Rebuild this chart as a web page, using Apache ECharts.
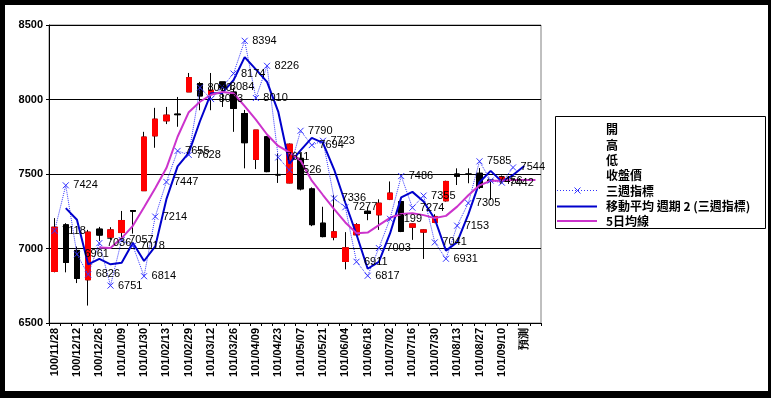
<!DOCTYPE html>
<html><head><meta charset="utf-8">
<script src="https://cdn.jsdelivr.net/npm/echarts@6/dist/echarts.min.js"></script>
<style>html,body{margin:0;padding:0;background:#000;}#c{width:771px;height:398px;}</style>
</head><body><div id="c"></div>
<script>
const categories = ['100/11/28','100/12/05','100/12/12','100/12/19','100/12/26','101/01/02','101/01/09','101/01/16','101/01/30','101/02/06','101/02/13','101/02/20','101/02/29','101/03/05','101/03/12','101/03/19','101/03/26','101/04/02','101/04/09','101/04/16','101/04/23','101/04/30','101/05/07','101/05/14','101/05/21','101/05/28','101/06/04','101/06/11','101/06/18','101/06/25','101/07/02','101/07/09','101/07/16','101/07/23','101/07/30','101/08/06','101/08/13','101/08/20','101/08/27','101/09/03','101/09/10','101/09/17','預測',''];
const openVals  = [6846,7159,6987,6790,7130,7076,7107,7255,7388,7756,7857,7902,8051,8107,8035,8118,8050,7906,7598,7750,7497,7440,7605,7400,7170,7076,6913,7092,7250,7226,7331,7315,7143,7110,7175,7320,7500,7500,7505,7460,7450];
const closeVals = [7143,6906,6799,7110,7090,7125,7188,7250,7748,7868,7895,7898,8147,8024,8062,8078,7940,7710,7795,7516,7493,7700,7400,7160,7080,7112,7005,7160,7235,7304,7372,7115,7165,7125,7215,7450,7485,7498,7410,7455,7480];
const lowVals   = [6840,6840,6768,6617,7050,7058,7058,7100,7388,7676,7835,7817,8051,7928,7928,7950,7783,7538,7533,7512,7440,7438,7390,7150,7075,7055,6860,7085,7190,7125,7325,7110,7058,6930,7170,7315,7426,7438,7400,7326,7440];
const highVals  = [7204,7170,7013,7125,7145,7143,7252,7258,7783,7944,7950,8017,8178,8118,8178,8118,8080,7930,7795,7755,7638,7705,7640,7410,7280,7360,7110,7170,7280,7330,7450,7320,7168,7128,7230,7455,7538,7538,7540,7462,7490];
const threeWeek = [7118,7424,6961,6826,7036,6751,7057,7018,6814,7214,7447,7655,7628,8080,8003,8084,8174,8394,8010,8226,7611,7526,7790,7694,7723,7336,7277,6911,6817,7003,7199,7486,7274,7355,7041,6931,7153,7305,7585,7456,7442,7544];
const threeWeekMA2 = [null,7271,7193,6894,6931,6894,6904,7038,6916,7014,7331,7551,7642,7854,8042,8044,8129,8284,8202,8118,7919,7569,7658,7742,7709,7530,7307,7094,6864,6910,7101,7343,7380,7315,7198,6986,7042,7229,7445,7521,7449,7493,7554];
const ma5 = [null,null,null,null,7007,7003,7070,7152,7277,7404,7540,7750,7915,7985,8032,8051,8042,7955,7865,7765,7688,7645,7590,7455,7359,7264,7175,7103,7107,7157,7206,7232,7237,7224,7204,7219,7281,7357,7424,7455,7455,7460,7460,7460];
const yMin = 6500, yMax = 8500, yStep = 500;

const wickData = openVals.map((o, i) => [o, closeVals[i], lowVals[i], highVals[i]]);
const bodyData = openVals.map((o, i) => [o, closeVals[i], Math.min(o, closeVals[i]), Math.max(o, closeVals[i])]);
const noIcon = {icon: 'rect', itemStyle: {color: 'rgba(0,0,0,0)', borderWidth: 0, opacity: 0}};
const xSym = 'path://M0,0L10,10M10,0L0,10';
const C3W = '#3333ff', CMA = '#0000cc', C5 = '#cc33cc';

const chart = echarts.init(document.getElementById('c'));
chart.setOption({
  animation: false,
  backgroundColor: '#000',
  graphic: [
    {type: 'rect', z: -10, shape: {x: 5, y: 5, width: 763, height: 386}, style: {fill: '#fff'}},
    {type: 'rect', z: -5, shape: {x: 555.5, y: 116.5, width: 210, height: 112}, style: {fill: '#fff', stroke: '#000', lineWidth: 1}},
    {type: 'line', z: 10, shape: {x1: 557, y1: 190.5, x2: 597, y2: 190.5}, style: {stroke: C3W, lineWidth: 1, lineDash: [1, 2]}},
    {type: 'line', z: 10, shape: {x1: 574.5, y1: 187.5, x2: 580.5, y2: 193.5}, style: {stroke: C3W, lineWidth: 1}},
    {type: 'line', z: 10, shape: {x1: 580.5, y1: 187.5, x2: 574.5, y2: 193.5}, style: {stroke: C3W, lineWidth: 1}},
    {type: 'line', z: 10, shape: {x1: 557, y1: 206.5, x2: 597, y2: 206.5}, style: {stroke: CMA, lineWidth: 2}},
    {type: 'line', z: 10, shape: {x1: 557, y1: 221, x2: 597, y2: 221}, style: {stroke: C5, lineWidth: 2}}
  ],
  grid: {left: 49, right: 230, top: 25, bottom: 75, show: true, backgroundColor: '#fff', borderColor: '#808080', borderWidth: 1},
  legend: {
    orient: 'vertical', left: 556, top: 117.3, itemWidth: 40, itemHeight: 10, itemGap: 0.3, itemTextGap: 2,
    textStyle: {fontSize: 12, lineHeight: 15, color: '#000', fontWeight: 'bold', fontFamily: 'Noto Sans CJK TC'},
    data: ['開', '高', '低', '收盤價', '三週指標', '移動平均 週期 2 (三週指標)', '5日均線'].map(n => Object.assign({name: n}, noIcon))
  },
  xAxis: {
    type: 'category', data: categories, boundaryGap: true,
    axisLine: {lineStyle: {color: '#000', width: 1}},
    axisTick: {show: true, interval: 0, length: 3, lineStyle: {color: '#000'}},
    axisLabel: {interval: 1, rotate: 90, fontSize: 11, fontWeight: 'bold', color: '#000', margin: 5, fontFamily: 'Liberation Sans'},
    splitLine: {show: false}
  },
  yAxis: {
    type: 'value', min: yMin, max: yMax, interval: yStep,
    axisLine: {show: true, lineStyle: {color: '#000'}},
    axisTick: {show: true, length: 3, lineStyle: {color: '#000'}},
    axisLabel: {fontSize: 11, fontWeight: 'bold', color: '#000', margin: 6, fontFamily: 'Liberation Sans', formatter: v => String(v)},
    splitLine: {show: true, lineStyle: {color: '#000', width: 1}}
  },
  series: [
    {name: '開', type: 'line', data: []},
    {name: '高', type: 'candlestick', data: wickData, barWidth: 6,
      itemStyle: {color: 'transparent', color0: 'transparent', borderColor: '#000', borderColor0: '#000', borderWidth: 1}},
    {name: '低', type: 'line', data: []},
    {name: '收盤價', type: 'candlestick', data: bodyData, barWidth: 6,
      itemStyle: {color: '#ff0000', color0: '#000', borderColor: '#ff0000', borderColor0: '#000', borderWidth: 1}},
    {name: '三週指標', type: 'line', data: threeWeek, showAllSymbol: true,
      symbol: xSym, symbolSize: 6,
      itemStyle: {color: C3W, borderColor: C3W, borderWidth: 1},
      lineStyle: {color: C3W, width: 1, type: 'dotted'},
      label: {show: true, position: 'right', distance: 4, color: '#000', fontSize: 11, fontFamily: 'Liberation Sans'}},
    {name: '移動平均 週期 2 (三週指標)', type: 'line', data: threeWeekMA2, symbol: 'none',
      itemStyle: {color: CMA}, lineStyle: {color: CMA, width: 2}},
    {name: '5日均線', type: 'line', data: ma5, symbol: 'none',
      itemStyle: {color: C5}, lineStyle: {color: C5, width: 2}}
  ]
});
</script></body></html>
